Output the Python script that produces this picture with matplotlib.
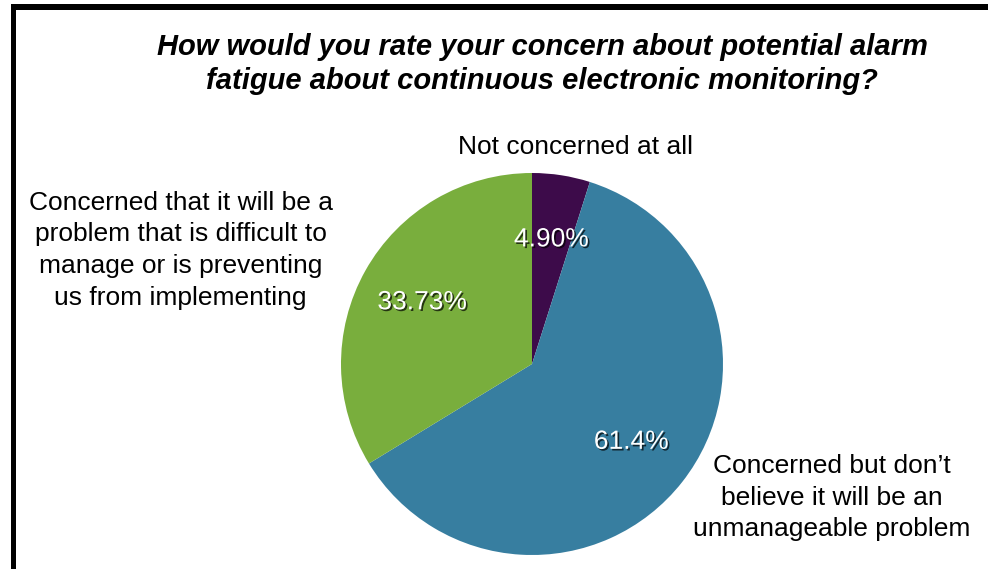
import matplotlib
matplotlib.use("Agg")
import matplotlib.pyplot as plt
import matplotlib.patheffects as pe
from matplotlib.patches import Rectangle
import numpy as np

# Survey responses (percent of respondents)
categories = [
    "Not concerned at all",
    "Concerned but don\u2019t\nbelieve it will be an\nunmanageable problem",
    "Concerned that it will be a\nproblem that is difficult to\nmanage or is preventing\nus from implementing",
]
values = [4.90, 61.4, 33.73]
value_labels = ["4.90%", "61.4%", "33.73%"]
colors = ["#3d0b4a", "#377ea0", "#79ae3d"]

title = ("How would you rate your concern about potential alarm\n"
         "fatigue about continuous electronic monitoring?")

W, H = 988, 569
fig = plt.figure(figsize=(W / 100, H / 100), dpi=100)
fig.patch.set_facecolor("white")

# Pie placed in a square axes box (centre 532,364 px, radius 191 px)
cx, cy, r = 532, 364, 191
ax = fig.add_axes([(cx - r) / W, (H - cy - r) / H, 2 * r / W, 2 * r / H])
wedges, _ = ax.pie(values, colors=colors, startangle=90, counterclock=False,
                   radius=1.0, wedgeprops=dict(linewidth=0))
ax.set_xlim(-1, 1)
ax.set_ylim(-1, 1)
ax.set_aspect("auto")
ax.axis("off")

# Percentage labels inside the slices
shadow = [pe.withSimplePatchShadow(offset=(1.2, -1.2), shadow_rgbFace="black", alpha=0.7)]
for w, lab in zip(wedges, value_labels):
    ang = np.deg2rad((w.theta1 + w.theta2) / 2)
    ax.text(0.66 * np.cos(ang), 0.66 * np.sin(ang), lab, ha="center", va="center",
            color="white", fontsize=19, family="Liberation Sans",
            path_effects=shadow)

# Category labels around the pie
label_font = dict(fontsize=19, family="Liberation Sans", color="black", linespacing=1.41)
ax.text(0.23, 1.136, categories[0], ha="center", va="center", **label_font)
ax.text(1.57, -0.70, categories[1], ha="center", va="center", **label_font)
ax.text(-1.84, 0.595, categories[2], ha="center", va="center", **label_font)

# Title
fig.text(542 / W, 1 - 64 / H, title, ha="center", va="center", fontsize=21,
         fontweight="bold", fontstyle="italic", family="Liberation Sans",
         linespacing=1.3)

# Frame (top and left rules)
fig.patches.append(Rectangle((11 / W, 1 - 10 / H), 1, 6 / H, transform=fig.transFigure,
                             facecolor="black", edgecolor="none"))
fig.patches.append(Rectangle((11 / W, 0), 5 / W, 1 - 4 / H, transform=fig.transFigure,
                             facecolor="black", edgecolor="none"))

fig.savefig("out.png", dpi=100, facecolor="white")
